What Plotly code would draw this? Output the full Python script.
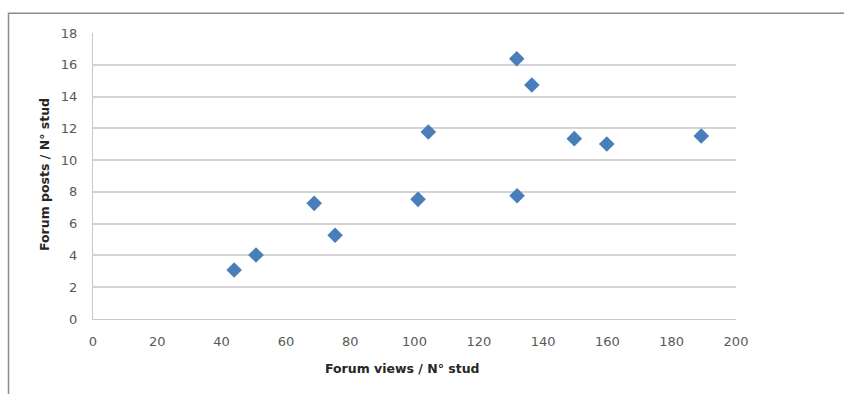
import plotly.graph_objects as go

# Data
forum_views = [43.9, 50.7, 68.8, 75.3, 101.1, 104.3, 131.8, 136.5, 131.9, 149.7, 159.8, 189.2]
forum_posts = [3.08, 4.03, 7.28, 5.27, 7.53, 11.77, 16.38, 14.73, 7.76, 11.35, 11.01, 11.52]

x_title = "Forum views / N° stud"
y_title = "Forum posts / N° stud"

W, H = 844, 394
L, R, T, B = 93, 108, 33, 75
pw = W - L - R
ph = H - T - B

def px_to_paper_x(px):
    return (px - L) / pw

def px_to_paper_y(py):
    return (H - B - py) / ph

fig = go.Figure()
fig.add_trace(go.Scatter(
    x=forum_views, y=forum_posts, mode="markers",
    marker=dict(symbol="diamond", size=12, color="#4a7ebb", line=dict(width=0)),
    showlegend=False, hoverinfo="x+y",
))

font_family = "DejaVu Sans"
tick_font = dict(family=font_family, size=13, color="#595959")

fig.update_layout(
    width=W, height=H,
    margin=dict(l=L, r=R, t=T, b=B, pad=0),
    paper_bgcolor="white", plot_bgcolor="white",
    xaxis=dict(
        range=[0, 200], dtick=20, tick0=0,
        showgrid=False, zeroline=False,
        showline=True, linecolor="#c8c8c8", linewidth=1,
        ticks="outside", ticklen=10, tickcolor="rgba(0,0,0,0)",
        tickfont=tick_font, fixedrange=True,
    ),
    yaxis=dict(
        range=[0, 18], dtick=2, tick0=0,
        showgrid=True, gridcolor="#d4d4d4", gridwidth=1.5,
        zeroline=False,
        showline=True, linecolor="#c8c8c8", linewidth=1,
        ticks="outside", ticklen=12, tickcolor="rgba(0,0,0,0)",
        tickfont=tick_font, fixedrange=True,
    ),
    shapes=[dict(
        type="rect", xref="paper", yref="paper",
        x0=px_to_paper_x(8.5), x1=px_to_paper_x(900),
        y0=px_to_paper_y(450), y1=px_to_paper_y(13.3),
        line=dict(color="#8c8c8c", width=1.5), fillcolor="rgba(0,0,0,0)",
        layer="below",
    )],
    annotations=[
        dict(text=f"<b>{x_title}</b>", xref="paper", yref="paper",
             x=px_to_paper_x(402), y=px_to_paper_y(368),
             xanchor="center", yanchor="middle", showarrow=False,
             font=dict(family=font_family, size=12.5, color="#262626")),
        dict(text=f"<b>{y_title}</b>", xref="paper", yref="paper",
             x=px_to_paper_x(44), y=px_to_paper_y(175),
             xanchor="center", yanchor="middle", showarrow=False, textangle=-90,
             font=dict(family=font_family, size=12.5, color="#262626")),
    ],
)

fig.write_html("out.html")
